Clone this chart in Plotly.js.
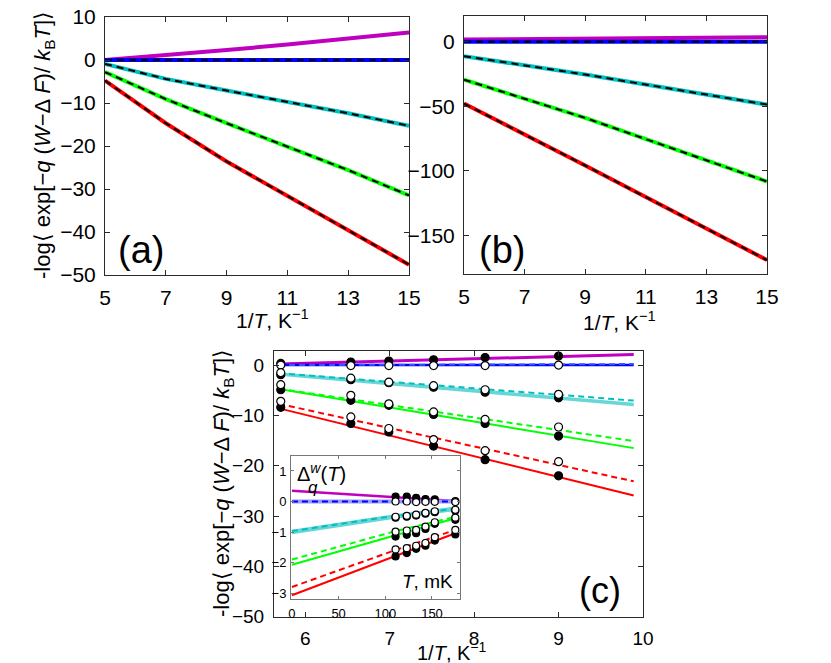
<!DOCTYPE html>
<html>
<head>
<meta charset="utf-8">
<script src="https://cdn.plot.ly/plotly-3.0.1.min.js"></script>
<style>
  body { margin: 0; background: #fff; }
  #plot { width: 831px; height: 663px; }
</style>
</head>
<body>
<div id="plot"></div>
<script>
// ---- panel (a): curves vs 1/T, dashed black = approximation on top
const xA = [5, 7, 9, 11, 13, 15];
const aPurple = [0, 1.1, 2.3, 3.6, 5.0, 6.4];
const aBlue = [0, 0, 0, 0, 0, 0];
const aCyan = [-0.9, -4.4, -7.1, -9.7, -12.4, -15.3];
const aGreen = [-2.8, -9.1, -14.7, -20.1, -25.6, -31.5];
const aRed = [-4.8, -14.7, -23.6, -31.7, -39.6, -47.6];

// ---- panel (b)
const xB = [5, 9, 15];
const bPurple = [1.8, 2.6, 3.6];
const bBlue = [0, 0, 0];
const bCyan = [-11.1, -25.4, -48.7];
const bGreen = [-29.3, -59.0, -108.3];
const bRed = [-47.9, -95.9, -169.2];

// ---- panel (c): fitted lines and measured points
const xLineC = [5.69, 9.89];
const cPurpleLine = [0.2, 2.1];
const cBlueLine = [0, 0];
const cBlueDash = [0, 0.2];
const cCyanLine = [-1.76, -7.84];
const cCyanDash = [-1.63, -7.06];
const cGreenLine = [-4.77, -16.5];
const cGreenDash = [-4.7, -15.1];
const cRedLine = [-8.6, -25.9];
const cRedDash = [-7.7, -23.1];

const xPtsC = [5.71, 6.54, 6.99, 7.52, 8.13, 9.0];
const cPurpleFilled = [0.33, 0.6, 0.8, 1.05, 1.5, 1.8];
const cBlueOpen = [0.0, -0.1, -0.1, -0.1, -0.1, 0.0];
const cCyanFilled = [-1.9, -2.9, -3.5, -4.4, -5.4, -6.5];
const cCyanOpen = [-1.5, -2.6, -3.4, -4.1, -4.9, -5.8];
const cGreenFilled = [-4.9, -7.0, -8.0, -9.8, -11.6, -14.1];
const cGreenOpen = [-3.9, -6.0, -7.7, -9.3, -10.8, -12.3];
const cRedFilled = [-8.4, -11.6, -13.3, -16.1, -18.8, -22.0];
const cRedOpen = [-7.2, -10.3, -12.6, -14.8, -17.0, -19.2];

// ---- inset: Delta_q^w(T) vs T in mK
const xLineIn = [0, 110, 175];
const inPurple = [0.35, 0.14, 0.02];
const inBlue = [0, 0, 0];
const inCyanLine = [-1.0, -0.49, -0.24];
const inCyanDash = [-0.97, -0.47, -0.24];
const inGreenLine = [-2.07, -1.11, -0.55];
const inGreenDash = [-1.9, -0.98, -0.5];
const inRedLine = [-3.07, -1.78, -1.04];
const inRedDash = [-2.8, -1.6, -0.93];

const tPtsIn = [111, 123, 133, 143, 153, 175];
const inPurpleFilled = [0.16, 0.16, 0.12, 0.08, 0.07, 0.01];
const inBlueOpen = [0, 0, -0.02, -0.01, -0.01, -0.02];
const inCyanFilled = [-0.53, -0.5, -0.46, -0.4, -0.35, -0.3];
const inCyanOpen = [-0.5, -0.47, -0.43, -0.37, -0.32, -0.27];
const inGreenFilled = [-1.15, -1.09, -1.04, -0.9, -0.73, -0.6];
const inGreenOpen = [-0.99, -0.95, -0.93, -0.82, -0.68, -0.53];
const inRedFilled = [-1.8, -1.69, -1.55, -1.45, -1.28, -1.08];
const inRedOpen = [-1.57, -1.53, -1.45, -1.36, -1.17, -0.93];

// tick labels
const ticksA = [-50, -40, -30, -20, -10, 0, 10];
const ticksB = [-150, -100, -50, 0];
const ticksC = [-50, -40, -30, -20, -10, 0];
const ticksIn = [-3, -2, -1, 0, 1];
const xTicksAB = [5, 7, 9, 11, 13, 15];
const xTicksC = [6, 7, 8, 9, 10];
const xTicksIn = [0, 50, 100, 150];
const label = v => (v < 0 ? '−' + Math.abs(v) : String(v));

const PURPLE = '#bf00bf', BLUE = '#0000ff', CYAN = '#00bfbf',
      GREEN = '#00ff00', RED = '#ff0000';
const FONT = 'Liberation Sans, Arial, sans-serif';
const W = 831, H = 663;
const fx = p => p / W;
const fy = p => 1 - p / H;

const line = (x, y, color, width, ax, dash) => ({
    x: x, y: y, xaxis: 'x' + ax, yaxis: 'y' + ax, mode: 'lines',
    line: { color: color, width: width, dash: dash || 'solid' },
    hoverinfo: 'skip'
});
const dots = (x, y, filled, ax, size) => ({
    x: x, y: y, xaxis: 'x' + ax, yaxis: 'y' + ax, mode: 'markers',
    marker: { size: size, color: filled ? '#000' : '#fff', line: { color: '#000', width: 1.2 } },
    hoverinfo: 'skip'
});

let traces = [];
// (a)
[[aPurple, PURPLE, false], [aBlue, BLUE, true], [aCyan, CYAN, true],
 [aGreen, GREEN, true], [aRed, RED, true]].forEach(s => {
    traces.push(line(xA, s[0], s[1], 4, ''));
    if (s[2]) traces.push(line(xA, s[0], '#000', 2, '', '7px,5px'));
});
// (b)
[[bPurple, PURPLE, false], [bBlue, BLUE, true], [bCyan, CYAN, true],
 [bGreen, GREEN, true], [bRed, RED, true]].forEach(s => {
    traces.push(line(xB, s[0], s[1], 4, '2'));
    if (s[2]) traces.push(line(xB, s[0], '#000', 2, '2', '7px,5px'));
});
// (c) lines
traces.push(line(xLineC, cPurpleLine, PURPLE, 3, '3'));
traces.push(line(xLineC, cBlueLine, BLUE, 2.5, '3'));
traces.push(line(xLineC, cBlueDash, '#3355ff', 2, '3', '6px,4px'));
traces.push(line(xLineC, cCyanLine, '#66d6d6', 3.5, '3'));
traces.push(line(xLineC, cCyanDash, CYAN, 2, '3', '6px,4px'));
traces.push(line(xLineC, cGreenLine, GREEN, 2, '3'));
traces.push(line(xLineC, cGreenDash, GREEN, 2, '3', '6px,4px'));
traces.push(line(xLineC, cRedLine, RED, 2, '3'));
traces.push(line(xLineC, cRedDash, RED, 2, '3', '6px,4px'));
// (c) points
[[cPurpleFilled, true], [cBlueOpen, false], [cCyanFilled, true], [cCyanOpen, false],
 [cGreenFilled, true], [cGreenOpen, false], [cRedFilled, true], [cRedOpen, false]]
    .forEach(s => traces.push(dots(xPtsC, s[0], s[1], '3', 8)));
// inset lines
traces.push(line(xLineIn, inPurple, PURPLE, 2.5, '4'));
traces.push(line(xLineIn, inBlue, '#9a9aff', 4, '4'));
traces.push(line(xLineIn, inBlue, BLUE, 2, '4', '6px,4px'));
traces.push(line(xLineIn, inCyanLine, '#66d6d6', 4.5, '4'));
traces.push(line(xLineIn, inCyanDash, CYAN, 2, '4', '6px,4px'));
traces.push(line(xLineIn, inGreenLine, GREEN, 2, '4'));
traces.push(line(xLineIn, inGreenDash, GREEN, 2, '4', '6px,4px'));
traces.push(line(xLineIn, inRedLine, RED, 2, '4'));
traces.push(line(xLineIn, inRedDash, RED, 2, '4', '6px,4px'));
[[inPurpleFilled, true], [inBlueOpen, false], [inCyanFilled, true], [inCyanOpen, false],
 [inGreenFilled, true], [inGreenOpen, false], [inRedFilled, true], [inRedOpen, false]]
    .forEach(s => traces.push(dots(tPtsIn, s[0], s[1], '4', 7)));

const axisBase = function (ticks, extra, fsize) {
    return Object.assign({
        showline: true, linecolor: '#2a2a2a', linewidth: 1, mirror: 'ticks',
        ticks: 'inside', ticklen: 5, tickcolor: '#2a2a2a', showgrid: false,
        zeroline: false, fixedrange: true, ticklabelstandoff: 4,
        tickmode: 'array', tickvals: ticks, ticktext: ticks.map(label),
        tickfont: { family: FONT, size: fsize || 21, color: '#000' }
    }, extra);
};

const ytitle = '-log⟨ exp[−<i>q</i> (<i>W</i>−Δ <i>F</i>)/ <i>k</i><sub>B</sub><i>T</i>]⟩';
const xtitle = '1/<i>T</i>, K<sup>−1</sup>';
const ann = (text, x, y, size, extra) => Object.assign({
    text: text, xref: 'paper', yref: 'paper', x: fx(x), y: fy(y),
    xanchor: 'center', yanchor: 'middle',
    showarrow: false, font: { family: FONT, size: size, color: '#000' }
}, extra || {});

const inset = { linecolor: '#777', tickcolor: '#777', ticklen: 3 };

const layout = {
    width: W, height: H,
    margin: { l: 0, r: 0, t: 0, b: 0 },
    paper_bgcolor: '#fff', plot_bgcolor: '#fff',
    showlegend: false,
    xaxis: axisBase(xTicksAB, { domain: [fx(105), fx(409)], range: [5, 15], anchor: 'y' }),
    yaxis: axisBase(ticksA, { domain: [fy(275), fy(17)], range: [-50, 10], anchor: 'x' }),
    xaxis2: axisBase(xTicksAB, { domain: [fx(464), fx(767)], range: [5, 15], anchor: 'y2' }),
    yaxis2: axisBase(ticksB, { domain: [fy(274), fy(16)], range: [-180, 20], anchor: 'x2' }),
    xaxis3: axisBase(xTicksC, { domain: [fx(274), fx(643)], range: [5.63, 10], anchor: 'y3' }, 19),
    yaxis3: axisBase(ticksC, { domain: [fy(616.7), fy(351)], range: [-50, 2.8], anchor: 'x3', ticklabelstandoff: 5 }, 19),
    xaxis4: axisBase(xTicksIn, Object.assign({ domain: [fx(291), fx(460)], range: [-1, 180],
        anchor: 'y4', ticklabelstandoff: 2 }, inset), 13),
    yaxis4: axisBase(ticksIn, Object.assign({ domain: [fy(599.2), fy(455.7)], range: [-3.2, 1.5],
        anchor: 'x4', ticklabelstandoff: 1 }, inset), 13),
    annotations: [
        ann('(a)', 141, 250, 38),
        ann('(b)', 502, 250, 38),
        ann('(c)', 600, 590, 36),
        ann(ytitle, 44, 145, 22, { textangle: -90 }),
        ann(ytitle, 223, 483, 22, { textangle: -90 }),
        ann(xtitle, 272, 319, 21),
        ann(xtitle, 619, 321, 21),
        ann(xtitle, 452, 651, 20),
        ann('Δ<sup><i>w</i></sup>(<i>T</i>)', 295, 472, 20, { xanchor: 'left' }),
        ann('<i>q</i>', 306, 487, 17, { xanchor: 'left' }),
        ann('<i>T</i>, mK', 455, 581, 19, { xanchor: 'right' })
    ]
};

Plotly.newPlot('plot', traces, layout, { displayModeBar: false, staticPlot: true });
</script>
</body>
</html>
